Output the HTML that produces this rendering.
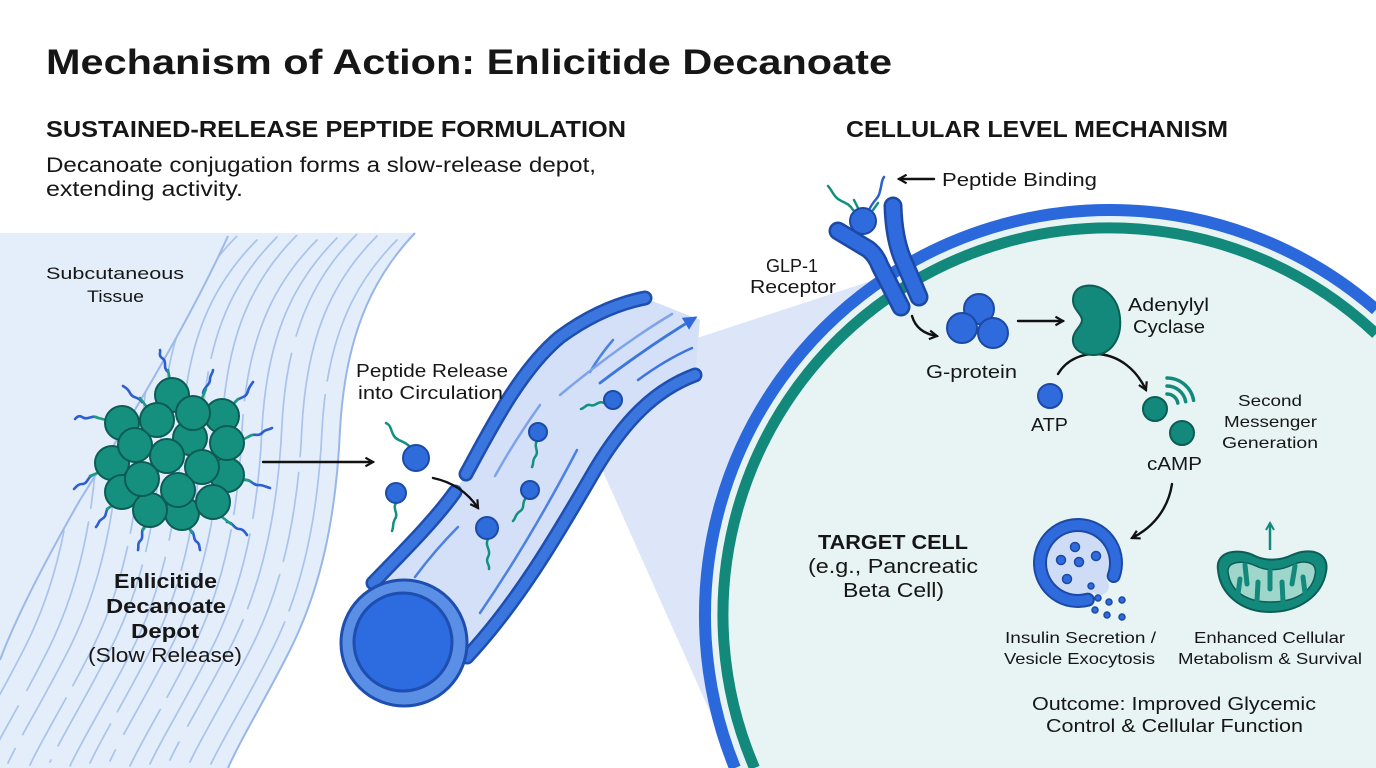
<!DOCTYPE html>
<html><head><meta charset="utf-8"><style>
html,body{margin:0;padding:0;background:#fff;width:1376px;height:768px;overflow:hidden;}
svg{display:block;}
text{font-family:"Liberation Sans",Arial,sans-serif;fill:#161616;}
.b{font-weight:bold;}
</style></head><body>
<svg width="1376" height="768" viewBox="0 0 1376 768" xmlns="http://www.w3.org/2000/svg">
<defs>
<marker id="ah" viewBox="0 0 10 10" refX="8" refY="5" markerWidth="4.5" markerHeight="4.5" orient="auto"><path d="M1,1 L8,5 L1,9" fill="none" stroke="#111" stroke-width="2"/></marker>
<marker id="ahb" viewBox="0 0 10 10" refX="8" refY="5" markerWidth="5" markerHeight="5" orient="auto"><path d="M0,0 L10,5 L0,10 Z" fill="#2f6bdc"/></marker>
<marker id="aht" viewBox="0 0 10 10" refX="8" refY="5" markerWidth="4" markerHeight="4" orient="auto"><path d="M1,1 L8,5 L1,9" fill="none" stroke="#13897b" stroke-width="2"/></marker>
<clipPath id="band"><path d="M228,236 L415,233 C370,280 345,340 340,430 C336,520 320,590 290,650 C265,700 240,740 228,768 L0,768 L0,660 C15,620 40,570 80,500 C130,420 190,320 228,236 Z"/></clipPath>
<path id="fib" d="M415,240 C370,285 345,340 340,430 C336,520 320,590 290,650 C265,700 240,740 228,766"/>
</defs>

<!-- tissue -->
<path d="M0,233 L415,233 C370,280 345,340 340,430 C336,520 320,590 290,650 C265,700 240,740 228,768 L0,768 Z" fill="#e4edfa"/>
<g clip-path="url(#band)" fill="none" stroke="#a9c3ec" stroke-width="1.7" stroke-linecap="round">
<use href="#fib" transform="translate(-18,0)" stroke-dasharray="160 14 220 12"/>
<use href="#fib" transform="translate(-38,-4)" stroke-dasharray="240 16 90 14"/>
<use href="#fib" transform="translate(-58,-6)" stroke-dasharray="120 18 260 12"/>
<use href="#fib" transform="translate(-78,-2)" stroke-dasharray="300 16"/>
<use href="#fib" transform="translate(-98,0)" stroke-dasharray="180 14 100 16"/>
<use href="#fib" transform="translate(-118,-5)" stroke-dasharray="260 18"/>
<use href="#fib" transform="translate(-138,-3)" stroke-dasharray="140 14 200 16"/>
<use href="#fib" transform="translate(-158,0)" stroke-dasharray="320 18"/>
<use href="#fib" transform="translate(-178,-4)" stroke-dasharray="200 16 120 14"/>
<use href="#fib" transform="translate(-198,-1)" stroke-dasharray="150 14"/>
<use href="#fib" transform="translate(-220,-3)" stroke-dasharray="260 16"/>
<use href="#fib" transform="translate(-242,0)" stroke-dasharray="180 18 90 14"/>
<use href="#fib" transform="translate(-264,-5)" stroke-dasharray="300 16"/>
<use href="#fib" transform="translate(-286,-2)" stroke-dasharray="140 14"/>
<use href="#fib" transform="translate(-308,0)" stroke-dasharray="220 16"/>
<use href="#fib" transform="translate(-330,-3)" stroke-dasharray="160 18"/>
<use href="#fib" transform="translate(-352,0)" stroke-dasharray="260 14"/>
<use href="#fib" transform="translate(-374,-4)" stroke-dasharray="180 16"/>
<use href="#fib" transform="translate(-396,0)"/>
</g>
<path d="M415,233 C370,280 345,340 340,430 C336,520 320,590 290,650 C265,700 240,740 228,768" fill="none" stroke="#98b6e8" stroke-width="2"/>
<path d="M228,236 C190,320 130,420 80,500 C40,570 15,620 0,660" fill="none" stroke="#9cb9e8" stroke-width="2"/>

<!-- zoom wedge -->
<path d="M630,360 L880,278 L880,768 L735,768 L580,420 Z" fill="#dce6f8"/>

<!-- cell -->
<path d="M735,768 A405,405 0 0 1 1376,309.6 L1376,768 Z" fill="#e7f4f3"/>
<path d="M735,768 A405,405 0 0 1 1376,309.6" fill="none" stroke="#2b68dc" stroke-width="12"/>
<path d="M754.5,768 A387,387 0 0 1 1376,333.9" fill="none" stroke="#13897b" stroke-width="11"/>

<!-- vessel -->
<path d="M373,583 C405,550 435,520 455,492 L466,474 C490,430 520,370 560,337 C590,315 620,303 645,298 L700,320 L695,375 C655,390 625,420 595,470 C560,530 520,600 467,657 Z" fill="#d3e0f7"/>
<g fill="none" stroke-linecap="round">
<path d="M480,613 Q530,540 577,450" stroke="#4c80e3" stroke-width="2.5"/>
<path d="M415,577 Q435,550 458,527" stroke="#4c80e3" stroke-width="2.5"/>
<path d="M495,476 Q515,440 540,405" stroke="#7ea3ea" stroke-width="2.5"/>
<path d="M590,372 Q600,355 613,340" stroke="#4c80e3" stroke-width="2.5"/>
<path d="M560,395 Q620,345 672,314" stroke="#7ea3ea" stroke-width="2.5"/>
<path d="M600,383 Q650,345 695,318" stroke="#3c74e0" stroke-width="2.8" marker-end="url(#ahb)"/>
<path d="M638,380 Q665,360 692,348" stroke="#3c74e0" stroke-width="2.5"/>
<path d="M373,583 C405,550 435,520 455,492" stroke="#1d4eb0" stroke-width="15"/>
<path d="M466,474 C490,430 520,370 560,337 C590,315 620,303 645,298" stroke="#1d4eb0" stroke-width="15"/>
<path d="M467,657 C520,600 560,530 595,470 C625,420 655,390 695,375" stroke="#1d4eb0" stroke-width="15"/>
<path d="M373,583 C405,550 435,520 455,492" stroke="#3b76de" stroke-width="10"/>
<path d="M466,474 C490,430 520,370 560,337 C590,315 620,303 645,298" stroke="#3b76de" stroke-width="10"/>
<path d="M467,657 C520,600 560,530 595,470 C625,420 655,390 695,375" stroke="#3b76de" stroke-width="10"/>
</g>
<circle cx="404" cy="643" r="63" fill="#5b8fe6" stroke="#1d4eb0" stroke-width="3"/>
<circle cx="403" cy="642" r="49" fill="#2d6be0" stroke="#1d4eb0" stroke-width="3"/>

<!-- peptides -->
<g fill="none" stroke="#13907f" stroke-width="2.5" stroke-linecap="round">
<path d="M410,447 C404,440 398,442 394,436 C390,430 392,426 386,423"/>
<path d="M396,503 C392,509 399,513 395,519 C392,524 394,527 392,531"/>
<path d="M488,539 C484,546 492,550 488,557 C485,562 490,565 489,569"/>
<path d="M537,441 C533,447 540,451 535,457 C532,461 534,464 532,467"/>
<path d="M526,498 C521,503 526,508 519,512 C515,515 516,518 513,521"/>
<path d="M604,403 C598,400 596,407 590,405 C586,404 585,408 581,409"/>
</g>
<g fill="#2f6cdb" stroke="#1b4aa8" stroke-width="2">
<circle cx="416" cy="458" r="13"/>
<circle cx="396" cy="493" r="10"/>
<circle cx="487" cy="528" r="11"/>
<circle cx="538" cy="432" r="9"/>
<circle cx="530" cy="490" r="9"/>
<circle cx="613" cy="400" r="9"/>
</g>

<!-- depot tails -->
<g fill="none" stroke-linecap="round" stroke-width="2.6">
<g stroke="#2c5fcf">
<path d="M168,372 C162,367 168,362 162,358 C158,355 161,352 160,350"/>
<path d="M142,402 C138,396 133,399 130,393 C128,389 126,388 123,386"/>
<path d="M203,393 C204,386 210,386 210,379 C210,375 213,373 213,370"/>
<path d="M235,402 C240,396 246,399 248,391 C249,387 251,385 253,382"/>
<path d="M248,437 C254,432 258,438 263,432 C266,429 269,430 272,428"/>
<path d="M98,418 C92,414 88,421 82,417 C79,415 77,417 75,419"/>
<path d="M93,475 C87,477 88,484 82,484 C78,484 76,487 74,489"/>
<path d="M245,480 C251,479 253,486 259,485 C263,485 266,487 270,488"/>
<path d="M110,507 C104,510 108,516 102,519 C98,521 99,524 96,527"/>
<path d="M145,527 C139,531 145,537 140,541 C137,544 139,547 138,550"/>
<path d="M190,530 C196,533 192,539 197,542 C200,544 199,547 200,550"/>
<path d="M227,522 C233,522 234,529 239,529 C243,529 245,532 247,535"/>
</g>
<g stroke="#1c9b82">
<path d="M170,380 L168,370"/><path d="M146,406 L140,398"/><path d="M202,398 L206,389"/>
<path d="M230,408 L238,399"/><path d="M242,440 L252,435"/><path d="M106,420 L95,417"/>
<path d="M100,472 L90,476"/><path d="M240,478 L250,481"/><path d="M116,503 L107,509"/>
<path d="M148,522 L143,530"/><path d="M187,524 L192,533"/><path d="M222,517 L231,524"/>
</g>
</g>
<!-- depot spheres -->
<g fill="#15907f" stroke="#0c5b55" stroke-width="2">
<circle cx="172" cy="395" r="17"/><circle cx="222" cy="416" r="17"/><circle cx="190" cy="438" r="17"/>
<circle cx="227" cy="475" r="17"/><circle cx="112" cy="463" r="17"/><circle cx="122" cy="492" r="17"/>
<circle cx="182" cy="513" r="17"/><circle cx="122" cy="423" r="17"/><circle cx="157" cy="420" r="17"/>
<circle cx="193" cy="413" r="17"/><circle cx="227" cy="443" r="17"/><circle cx="135" cy="445" r="17"/>
<circle cx="167" cy="456" r="17"/><circle cx="202" cy="467" r="17"/><circle cx="150" cy="510" r="17"/>
<circle cx="142" cy="479" r="17"/><circle cx="178" cy="490" r="17"/><circle cx="213" cy="502" r="17"/>
</g>

<!-- black arrows -->
<g fill="none" stroke="#111" stroke-width="2.4" stroke-linecap="round">
<path d="M263,462 L373,462" marker-end="url(#ah)"/>
<path d="M433,478 Q462,484 478,508" marker-end="url(#ah)"/>
<path d="M934,179 L899,179" marker-end="url(#ah)"/>
<path d="M912,316 Q917,333 937,336" marker-end="url(#ah)"/>
<path d="M1018,321 L1063,321" marker-end="url(#ah)"/>
<path d="M1058,374 C1075,345 1125,345 1146,390" marker-end="url(#ah)"/>
<path d="M1172,484 C1168,510 1152,528 1132,538" marker-end="url(#ah)"/>
</g>

<!-- receptor -->
<g fill="none" stroke-linecap="round" stroke-linejoin="round">
<path d="M838,231 L868,249 Q876,255 880,266 L901,307" stroke="#1c49a6" stroke-width="19"/>
<path d="M838,231 L868,249 Q876,255 880,266 L901,307" stroke="#2f6bdc" stroke-width="14"/>
<path d="M893,206 Q894,240 904,262 L919,297" stroke="#1c49a6" stroke-width="19"/>
<path d="M893,206 Q894,240 904,262 L919,297" stroke="#2f6bdc" stroke-width="14"/>
<path d="M853,210 C848,201 840,203 835,196 C831,191 831,189 828,186" stroke="#13907f" stroke-width="2.5"/>
<path d="M858,208 L854,200" stroke="#13907f" stroke-width="2.5"/>
<path d="M870,208 C874,200 879,198 880,191 C882,185 881,181 884,177" stroke="#2c5fcf" stroke-width="2.5"/>
<path d="M873,210 L878,203" stroke="#13907f" stroke-width="2.5"/>
</g>
<circle cx="863" cy="221" r="13" fill="#2f6bdc" stroke="#1c49a6" stroke-width="2"/>

<!-- G-protein -->
<g fill="#2f6bdc" stroke="#1c49a6" stroke-width="2">
<circle cx="979" cy="309" r="15"/><circle cx="962" cy="328" r="15"/><circle cx="993" cy="333" r="15"/>
</g>
<!-- adenylyl cyclase -->
<path d="M1085,286 C1100,283 1118,295 1120,318 C1122,340 1110,355 1093,355 C1080,355 1072,348 1073,338 C1074,330 1082,326 1082,320 C1082,314 1073,310 1073,300 C1073,292 1078,287 1085,286 Z" fill="#13897b" stroke="#0b5d55" stroke-width="2"/>
<!-- ATP / cAMP -->
<circle cx="1050" cy="396" r="12" fill="#2f6bdc" stroke="#1c49a6" stroke-width="2"/>
<circle cx="1155" cy="409" r="12" fill="#13897b" stroke="#0b5d55" stroke-width="2"/>
<circle cx="1182" cy="433" r="12" fill="#13897b" stroke="#0b5d55" stroke-width="2"/>
<g fill="none" stroke="#13897b" stroke-width="3.5" stroke-linecap="round">
<path d="M1167,394 A11,11 0 0 1 1177.8,403.1"/>
<path d="M1167,386 A19,19 0 0 1 1185.7,401.7"/>
<path d="M1167,378 A27,27 0 0 1 1193.6,400.3"/>
</g>

<!-- vesicle -->
<circle cx="1078" cy="563" r="33" fill="#cfdcf6"/>
<circle cx="1100" cy="586" r="9" fill="#cfdcf6"/>
<path d="M1087.8,599.7 A38,38 0 1 1 1113.7,576" fill="none" stroke="#1c49a6" stroke-width="14" stroke-linecap="round"/>
<path d="M1087.8,599.7 A38,38 0 1 1 1113.7,576" fill="none" stroke="#2f6bdc" stroke-width="10" stroke-linecap="round"/>
<g fill="#2f6bdc" stroke="#1c49a6" stroke-width="1.5">
<circle cx="1075" cy="547" r="4.5"/><circle cx="1061" cy="560" r="4.5"/><circle cx="1079" cy="562" r="4.5"/>
<circle cx="1096" cy="556" r="4.5"/><circle cx="1067" cy="579" r="4.5"/>
<circle cx="1091" cy="586" r="3"/><circle cx="1098" cy="598" r="3"/><circle cx="1109" cy="602" r="3"/>
<circle cx="1122" cy="600" r="3"/><circle cx="1095" cy="610" r="3"/><circle cx="1107" cy="615" r="3"/><circle cx="1122" cy="617" r="3"/>
</g>

<!-- mitochondrion -->
<path d="M1218,570 C1215,550 1240,548 1255,556 C1265,561 1280,561 1292,555 C1310,547 1330,552 1326,572 C1322,595 1300,612 1270,612 C1240,612 1220,593 1218,570 Z" fill="#13897b" stroke="#0b5d55" stroke-width="2"/>
<path d="M1228,572 C1227,561 1243,560 1256,566 C1266,571 1280,571 1292,565 C1305,559 1318,562 1315,575 C1312,592 1295,602 1270,602 C1245,602 1230,590 1228,572 Z" fill="#9fd6cb" stroke="#0b5d55" stroke-width="1.5"/>
<g stroke="#13897b" stroke-width="5" stroke-linecap="round" fill="none">
<path d="M1245,565 L1247,584"/><path d="M1270,571 L1270,589"/><path d="M1295,566 L1292,584"/>
<path d="M1257,601 L1258,582"/><path d="M1283,601 L1282,582"/><path d="M1238,594 L1240,579"/><path d="M1305,593 L1303,577"/>
</g>
<path d="M1270,550 L1270,523" fill="none" stroke="#13897b" stroke-width="2.5" marker-end="url(#aht)"/>

<!-- text -->
<text x="46" y="74" class="b" font-size="35" textLength="846" lengthAdjust="spacingAndGlyphs">Mechanism of Action: Enlicitide Decanoate</text>
<text x="46" y="137" class="b" font-size="23" textLength="580" lengthAdjust="spacingAndGlyphs">SUSTAINED-RELEASE PEPTIDE FORMULATION</text>
<text x="46" y="172" font-size="21" textLength="550" lengthAdjust="spacingAndGlyphs">Decanoate conjugation forms a slow-release depot,</text>
<text x="46" y="196" font-size="21" textLength="197" lengthAdjust="spacingAndGlyphs">extending activity.</text>
<text x="846" y="137" class="b" font-size="23" textLength="382" lengthAdjust="spacingAndGlyphs">CELLULAR LEVEL MECHANISM</text>

<text x="46" y="279" font-size="17" textLength="138" lengthAdjust="spacingAndGlyphs">Subcutaneous</text>
<text x="87" y="302" font-size="17" textLength="57" lengthAdjust="spacingAndGlyphs">Tissue</text>

<text x="114" y="588" class="b" font-size="20" textLength="103" lengthAdjust="spacingAndGlyphs">Enlicitide</text>
<text x="106" y="613" class="b" font-size="20" textLength="120" lengthAdjust="spacingAndGlyphs">Decanoate</text>
<text x="131" y="638" class="b" font-size="20" textLength="68" lengthAdjust="spacingAndGlyphs">Depot</text>
<text x="88" y="662" font-size="20" textLength="154" lengthAdjust="spacingAndGlyphs">(Slow Release)</text>

<text x="356" y="377" font-size="18" textLength="152" lengthAdjust="spacingAndGlyphs">Peptide Release</text>
<text x="358" y="399" font-size="18" textLength="145" lengthAdjust="spacingAndGlyphs">into Circulation</text>

<text x="942" y="186" font-size="18" textLength="155" lengthAdjust="spacingAndGlyphs">Peptide Binding</text>
<text x="766" y="272" font-size="18" textLength="52" lengthAdjust="spacingAndGlyphs">GLP-1</text>
<text x="750" y="293" font-size="18" textLength="86" lengthAdjust="spacingAndGlyphs">Receptor</text>

<text x="1128" y="311" font-size="18" textLength="81" lengthAdjust="spacingAndGlyphs">Adenylyl</text>
<text x="1133" y="333" font-size="18" textLength="72" lengthAdjust="spacingAndGlyphs">Cyclase</text>
<text x="926" y="378" font-size="18" textLength="91" lengthAdjust="spacingAndGlyphs">G-protein</text>
<text x="1031" y="431" font-size="18" textLength="37" lengthAdjust="spacingAndGlyphs">ATP</text>
<text x="1147" y="470" font-size="18" textLength="55" lengthAdjust="spacingAndGlyphs">cAMP</text>
<text x="1238" y="406" font-size="16" textLength="64" lengthAdjust="spacingAndGlyphs">Second</text>
<text x="1224" y="427" font-size="16" textLength="93" lengthAdjust="spacingAndGlyphs">Messenger</text>
<text x="1222" y="448" font-size="16" textLength="96" lengthAdjust="spacingAndGlyphs">Generation</text>

<text x="818" y="549" class="b" font-size="20" textLength="150" lengthAdjust="spacingAndGlyphs">TARGET CELL</text>
<text x="808" y="573" font-size="20" textLength="170" lengthAdjust="spacingAndGlyphs">(e.g., Pancreatic</text>
<text x="843" y="597" font-size="20" textLength="101" lengthAdjust="spacingAndGlyphs">Beta Cell)</text>

<text x="1005" y="643" font-size="16" textLength="151" lengthAdjust="spacingAndGlyphs">Insulin Secretion /</text>
<text x="1004" y="664" font-size="16" textLength="151" lengthAdjust="spacingAndGlyphs">Vesicle Exocytosis</text>
<text x="1194" y="643" font-size="16" textLength="151" lengthAdjust="spacingAndGlyphs">Enhanced Cellular</text>
<text x="1178" y="664" font-size="16" textLength="184" lengthAdjust="spacingAndGlyphs">Metabolism &amp; Survival</text>

<text x="1032" y="710" font-size="18" textLength="284" lengthAdjust="spacingAndGlyphs">Outcome: Improved Glycemic</text>
<text x="1046" y="732" font-size="18" textLength="257" lengthAdjust="spacingAndGlyphs">Control &amp; Cellular Function</text>
</svg>
</body></html>
